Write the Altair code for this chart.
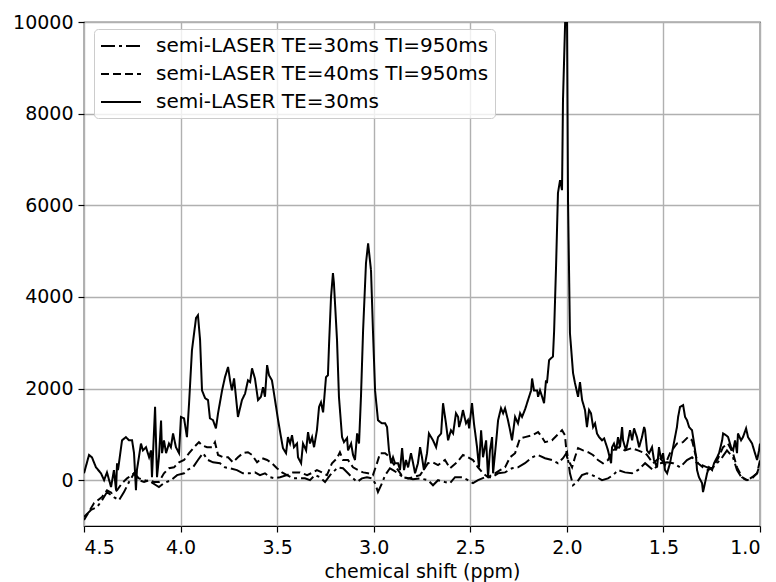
import altair as alt
import pandas as pd

# ---- data ----
solid_ppm = [4.500, 4.474, 4.459, 4.438, 4.412, 4.396, 4.381, 4.360, 4.345, 4.334, 4.329, 4.324, 4.303, 4.283,
             4.267, 4.251, 4.241, 4.231, 4.226, 4.205, 4.195, 4.179, 4.163, 4.153, 4.148, 4.132, 4.122, 4.112,
             4.101, 4.096, 4.086, 4.075, 4.060, 4.050, 4.039, 4.024, 4.008, 3.998, 3.982, 3.967, 3.956, 3.941,
             3.920, 3.910, 3.899, 3.889, 3.873, 3.858, 3.848, 3.832, 3.817, 3.806, 3.785, 3.770, 3.754, 3.744,
             3.734, 3.723, 3.708, 3.703, 3.682, 3.666, 3.651, 3.640, 3.630, 3.615, 3.599, 3.584, 3.573, 3.563,
             3.552, 3.542, 3.527, 3.511, 3.495, 3.480, 3.470, 3.454, 3.444, 3.433, 3.423, 3.413, 3.397, 3.392,
             3.376, 3.366, 3.350, 3.340, 3.330, 3.319, 3.309, 3.294, 3.283, 3.273, 3.262, 3.247, 3.237, 3.231,
             3.221, 3.211, 3.206, 3.190, 3.180, 3.164, 3.154, 3.138, 3.133, 3.117, 3.107, 3.097, 3.086, 3.076,
             3.066, 3.055, 3.040, 3.029, 3.014, 3.004, 2.993, 2.978, 2.967, 2.957, 2.941, 2.931, 2.921, 2.910,
             2.900, 2.890, 2.874, 2.864, 2.853, 2.843, 2.833, 2.822, 2.807, 2.796, 2.786, 2.771, 2.760, 2.750,
             2.740, 2.724, 2.714, 2.703, 2.693, 2.677, 2.667, 2.651, 2.641, 2.626, 2.615, 2.600, 2.589, 2.574,
             2.563, 2.558, 2.548, 2.538, 2.522, 2.512, 2.506, 2.491, 2.481, 2.465, 2.455, 2.444, 2.434, 2.418,
             2.408, 2.398, 2.387, 2.382, 2.367, 2.356, 2.341, 2.330, 2.320, 2.305, 2.294, 2.284, 2.268, 2.253,
             2.242, 2.232, 2.216, 2.201, 2.185, 2.180, 2.170, 2.154, 2.149, 2.139, 2.128, 2.118, 2.108, 2.103,
             2.092, 2.082, 2.072, 2.066, 2.056, 2.046, 2.035, 2.025, 2.020, 2.009, 1.999, 1.994, 1.984, 1.968,
             1.958, 1.942, 1.932, 1.921, 1.906, 1.896, 1.885, 1.875, 1.864, 1.854, 1.844, 1.833, 1.818, 1.807,
             1.792, 1.787, 1.771, 1.766, 1.756, 1.745, 1.735, 1.725, 1.714, 1.709, 1.694, 1.683, 1.673, 1.662,
             1.652, 1.637, 1.626, 1.611, 1.600, 1.595, 1.585, 1.574, 1.559, 1.549, 1.533, 1.523, 1.512, 1.502,
             1.492, 1.481, 1.466, 1.450, 1.440, 1.430, 1.424, 1.414, 1.398, 1.388, 1.378, 1.367, 1.352, 1.341,
             1.331, 1.326, 1.316, 1.300, 1.295, 1.285, 1.274, 1.264, 1.248, 1.238, 1.222, 1.212, 1.196, 1.191,
             1.176, 1.165, 1.150, 1.139, 1.129, 1.119, 1.114, 1.098, 1.088, 1.072, 1.062, 1.041, 1.026, 1.015,
             1.005, 1.000]
solid_val = [150, 550, 500, 280, 150, 0, 170, -150, 220, -220, 370, 220, 870, 940,
             870, 870, 590, -220, 220, 800, 650, 720, 500, 650, 65, 1600, 65, 500,
             1300, 590, 870, 590, 800, 720, 1020, 720, 590, 1380, 1350, 940, 1680, 2840,
             3540, 3600, 3060, 1960, 1790, 1750, 1350, 1310, 1130, 1460, 1960, 2250, 2470, 2180,
             1960, 2220, 1600, 1380, 1750, 1890, 2180, 2140, 2440, 2220, 1750, 1820, 2030, 1820,
             2510, 2290, 2180, 1750, 1310, 940, 700, 590, 940, 800, 980, 720, 800, 500,
             370, 800, 650, 1050, 800, 940, 720, 1090, 1600, 1700, 1480, 2250, 2290, 2990,
             4000, 4520, 4300, 3060, 1820, 940, 830, 920, 650, 800, 550, 440, 1020, 800,
             1820, 3270, 4740, 5170, 4580, 3270, 1960, 1310, 1270, 1240, 1240, 1160, 650, 370,
             500, 370, 370, 220, 700, 220, 440, 280, 590, 370, 150, 370, 720, 500,
             220, 590, 1020, 940, 870, 720, 940, 1020, 1680, 1240, 870, 1090, 1020, 1460,
             1380, 1160, 1310, 1530, 1240, 1310, 1130, 1680, 1240, 720, 280, 1090, 500, 870,
             65, 650, 940, 150, 800, 1310, 1570, 1460, 1570, 1310, 1090, 870, 1380, 1240,
             1460, 1380, 1550, 1750, 1960, 2220, 1960, 1960, 1820, 1960, 1820, 1680, 2180, 2120,
             2620, 2660, 2700, 3250, 4650, 6270, 6550, 6330, 8300, 9980, 9980, 6110, 3210, 2340,
             2120, 1820, 2140, 1750, 1530, 1160, 1530, 1460, 1160, 1240, 1020, 940, 870, 910,
             720, 650, 370, 720, 800, 650, 940, 720, 1160, 870, 650, 870, 1090, 870,
             1130, 940, 720, 940, 1160, 1090, 650, 590, 720, 440, 280, 720, 440, 590,
             220, 150, 370, 720, 940, 1160, 1380, 1600, 1640, 1380, 1310, 1160, 1090, 800,
             500, 220, 65, -65, -260, -65, 150, 280, 220, 370, 500, 590, 870, 1020,
             980, 940, 720, 650, 870, 590, 1020, 870, 940, 1130, 940, 800, 590, 440,
             650, 800]

dashed_ppm = [4.500, 4.448, 4.407, 4.381, 4.355, 4.329, 4.303, 4.277, 4.241, 4.215, 4.189, 4.163, 4.138,
              4.112, 4.086, 4.060, 4.034, 4.008, 3.982, 3.956, 3.930, 3.905, 3.889, 3.863, 3.837, 3.822,
              3.806, 3.780, 3.754, 3.729, 3.703, 3.677, 3.651, 3.630, 3.604, 3.578, 3.552, 3.527, 3.501,
              3.475, 3.449, 3.418, 3.382, 3.345, 3.314, 3.294, 3.268, 3.242, 3.216, 3.190, 3.175, 3.159,
              3.133, 3.107, 3.081, 3.055, 3.029, 3.004, 2.983, 2.967, 2.941, 2.916, 2.900, 2.874, 2.848,
              2.822, 2.797, 2.760, 2.719, 2.693, 2.667, 2.631, 2.605, 2.569, 2.538, 2.512, 2.486, 2.460,
              2.434, 2.408, 2.372, 2.346, 2.320, 2.294, 2.268, 2.243, 2.217, 2.180, 2.149, 2.129, 2.113,
              2.077, 2.051, 2.025, 2.010, 1.999, 1.984, 1.973, 1.958, 1.942, 1.916, 1.890, 1.865, 1.839,
              1.813, 1.787, 1.761, 1.735, 1.699, 1.663, 1.632, 1.595, 1.585, 1.554, 1.518, 1.492, 1.466,
              1.430, 1.399, 1.373, 1.352, 1.336, 1.321, 1.295, 1.269, 1.243, 1.217, 1.191, 1.166, 1.140,
              1.119, 1.093, 1.067, 1.041, 1.015, 1.000]
dashed_val = [-870, -500, -370, -220, -280, -220, -65, 40, 150, 0, -40, 0, -40,
              -40, 150, 260, 280, 390, 440, 590, 720, 830, 760, 720, 720, 830,
              550, 500, 500, 390, 500, 590, 610, 550, 390, 480, 440, 370, 260,
              170, 110, 170, 170, 110, 170, 220, 170, 110, 370, 480, 610, 440,
              440, 280, 220, 170, 150, 110, 370, 590, 590, 500, 370, 220, 65,
              40, 65, 110, 370, 390, 330, 440, 260, 390, 550, 500, 440, 280,
              150, 65, 150, 220, 280, 500, 590, 910, 940, 980, 1050, 940, 830,
              870, 980, 1090, 980, 500, 370, 280, 500, 700, 650, 610, 550, 440,
              370, 440, 650, 720, 650, 700, 650, 590, 550, 370, 500, 330, 590,
              800, 830, 940, 870, 590, 370, 280, 220, 280, 480, 720, 800, 590,
              280, 65, 0, 40, 150, 440]

dashdot_ppm = [4.500, 4.464, 4.433, 4.407, 4.381, 4.345, 4.319, 4.293, 4.267, 4.241, 4.215, 4.189, 4.153,
               4.127, 4.112, 4.086, 4.050, 4.018, 3.982, 3.967, 3.936, 3.910, 3.884, 3.858, 3.832, 3.796,
               3.770, 3.744, 3.708, 3.677, 3.641, 3.615, 3.589, 3.563, 3.537, 3.511, 3.485, 3.449, 3.418,
               3.382, 3.356, 3.330, 3.304, 3.278, 3.252, 3.226, 3.200, 3.185, 3.159, 3.133, 3.107, 3.086,
               3.061, 3.035, 3.009, 2.993, 2.978, 2.957, 2.941, 2.916, 2.900, 2.874, 2.848, 2.822, 2.797,
               2.760, 2.719, 2.693, 2.667, 2.631, 2.605, 2.579, 2.543, 2.512, 2.486, 2.460, 2.424, 2.388,
               2.356, 2.320, 2.284, 2.253, 2.217, 2.180, 2.149, 2.113, 2.077, 2.046, 2.020, 1.999, 1.984,
               1.968, 1.947, 1.922, 1.896, 1.870, 1.844, 1.818, 1.787, 1.761, 1.735, 1.699, 1.663, 1.632,
               1.595, 1.554, 1.518, 1.481, 1.450, 1.414, 1.378, 1.352, 1.326, 1.300, 1.274, 1.248, 1.222,
               1.196, 1.171, 1.140, 1.119, 1.093, 1.067, 1.041, 1.015, 1.000]
dashdot_val = [-800, -650, -590, -440, -260, -370, -440, -260, -40, 150, 40, 0, -40,
               -110, -150, -65, 0, 110, 150, 220, 280, 440, 590, 440, 390, 370,
               280, 260, 220, 150, 150, 170, 110, 150, 65, 40, 65, 110, 40,
               40, 40, 0, 110, 65, -40, 110, 220, 280, 260, 150, 40, -40,
               40, 65, 40, -65, -260, -65, 110, 260, 220, 150, 65, 40, 20,
               40, 0, -110, 0, -40, -65, 65, 65, 0, -65, 0, 65, 65,
               150, 170, 260, 280, 370, 500, 550, 480, 440, 370, 480, 610, 150,
               -110, -40, 110, 150, 110, 65, 0, 40, 110, 220, 170, 150, 220,
               370, 220, 370, 390, 370, 280, 440, 500, 370, 330, 280, 260, 370,
               500, 650, 500, 220, 40, 0, 65, 150, 370]

series_names = ["semi-LASER TE=30ms TI=950ms", "semi-LASER TE=40ms TI=950ms", "semi-LASER TE=30ms"]
x_ticks = [4.5, 4.0, 3.5, 3.0, 2.5, 2.0, 1.5, 1.0]
y_ticks = [0, 2000, 4000, 6000, 8000, 10000]

rows = []
for name, xs, ys in [(series_names[0], dashdot_ppm, dashdot_val),
                     (series_names[1], dashed_ppm, dashed_val),
                     (series_names[2], solid_ppm, solid_val)]:
    for i, (a, b) in enumerate(zip(xs, ys)):
        rows.append({"series": name, "ppm": a, "signal": b, "idx": i})
df = pd.DataFrame(rows)

FONT = "DejaVu Sans"
FS = 19

chart = alt.Chart(df).mark_line(color="black", strokeWidth=2, clip=True).encode(
    x=alt.X("ppm:Q",
            scale=alt.Scale(domain=[4.5, 1.0], nice=False, zero=False),
            axis=alt.Axis(values=x_ticks, format=".1f", title="chemical shift (ppm)",
                          labelPadding=6, titlePadding=5)),
    y=alt.Y("signal:Q",
            scale=alt.Scale(domain=[-1000, 10000], nice=False, zero=False),
            axis=alt.Axis(values=y_ticks, format="d", title=None, labelPadding=5)),
    strokeDash=alt.StrokeDash("series:N",
                              scale=alt.Scale(domain=series_names,
                                              range=[[14, 4, 3, 4], [8, 4], [1, 0]]),
                              legend=alt.Legend(title=None, orient="none", legendX=10, legendY=7,
                                                symbolType="M-1,0H3", symbolStrokeWidth=2,
                                                symbolStrokeColor="black", symbolSize=400,
                                                labelFontSize=20, labelFont=FONT, labelColor="black",
                                                labelLimit=0,
                                                fillColor="rgba(255,255,255,0.8)", strokeColor="#cccccc",
                                                padding=6, rowPadding=7, labelOffset=34,
                                                cornerRadius=4)),
    order="idx:Q",
).properties(
    width=676, height=504,
    autosize="none",
    padding={"left": 84, "top": 22, "right": 16, "bottom": 56},
).configure_view(
    stroke="black", strokeWidth=1.2
).configure_axis(
    grid=True, gridColor="#b0b0b0", gridWidth=1.4,
    domain=False,
    tickColor="black", tickSize=6, tickWidth=1.2,
    labelFont=FONT, labelFontSize=FS, labelColor="black",
    titleFont=FONT, titleFontSize=FS, titleFontWeight="normal", titleColor="black",
)

chart.save("out.html", embed_options={"renderer": "svg", "actions": False})
